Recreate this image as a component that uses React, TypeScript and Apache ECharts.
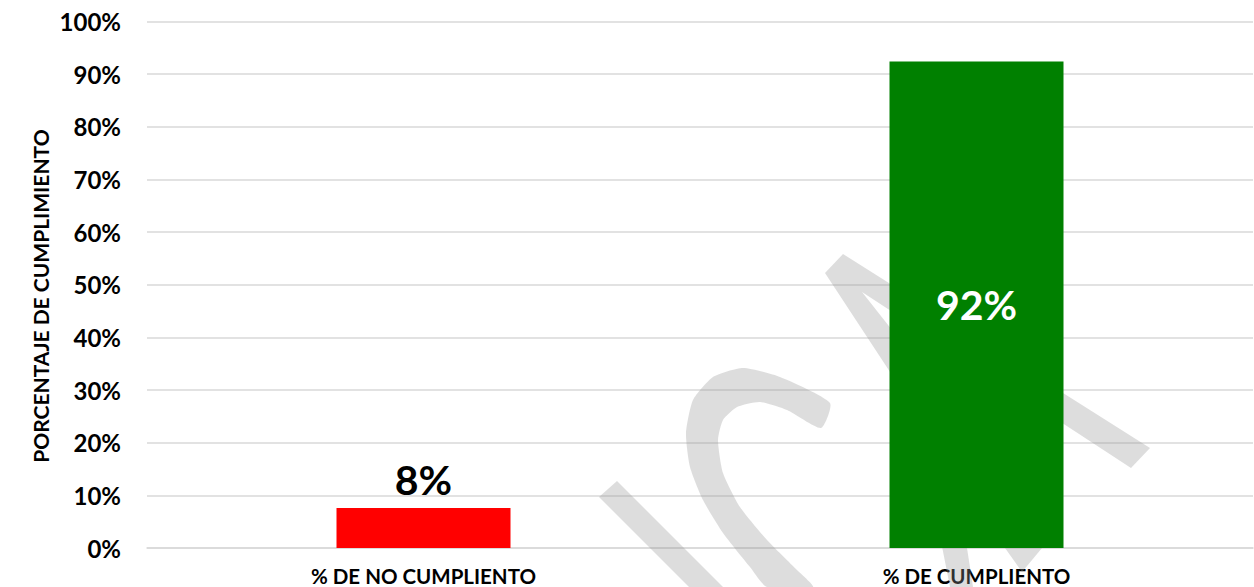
import React, { useEffect, useRef } from "react";
import * as echarts from "echarts";

const categories = ["% DE NO CUMPLIENTO", "% DE CUMPLIENTO"];
const values = [7.6, 92.4];
const barColors = ["#ff0000", "#008000"];
const labelColors = ["#000000", "#ffffff"];
const labelPositions = ["top", "inside"];
const yAxisName = "PORCENTAJE DE CUMPLIMIENTO";

const FONT = "Lato, 'Open Sans', sans-serif";
const WM = "rgba(150,150,150,0.32)";

export default function App() {
  const ref = useRef<HTMLDivElement>(null);
  useEffect(() => {
    if (!ref.current) return;
    const chart = echarts.init(ref.current, undefined, { renderer: "svg" });
    const wm = (pts: number[][], smooth = 0) => ({
      type: "polygon",
      z: 1,
      silent: true,
      shape: { points: pts, smooth },
      style: { fill: WM },
    });
    chart.setOption({
      animation: false,
      backgroundColor: "#ffffff",
      grid: { left: 147, right: 1, top: 21.5, bottom: 39, containLabel: false },
      xAxis: {
        type: "category",
        data: categories,
        axisLine: { show: true, lineStyle: { color: "#d9d9d9", width: 1.5 } },
        axisTick: { show: false },
        axisLabel: {
          color: "#000",
          fontFamily: FONT,
          fontWeight: "bold",
          fontSize: 20.5,
          lineHeight: 20,
          margin: 18,
        },
      },
      yAxis: {
        type: "value",
        min: 0,
        max: 100,
        interval: 10,
        axisLine: { show: false },
        axisTick: { show: false },
        axisLabel: {
          formatter: "{value}%",
          color: "#000",
          fontFamily: FONT,
          fontWeight: "bold",
          fontSize: 24,
          margin: 26,
        },
        splitLine: { lineStyle: { color: "#d9d9d9", width: 1.5 } },
      },
      graphic: [
        {
          type: "text",
          x: 40,
          y: 296,
          rotation: Math.PI / 2,
          z: 3,
          style: {
            text: yAxisName,
            fill: "#000",
            font: `bold 21px ${FONT}`,
            align: "center",
            verticalAlign: "middle",
          },
        },
        wm([[617, 481], [723, 587], [689, 587], [599, 497]]),
        wm([
          [830, 403], [780, 377], [743, 368], [713, 377], [693, 400], [686, 433],
          [690, 467], [703, 500], [723, 533], [750, 567], [767, 587],
          [813, 587], [797, 570], [767, 540], [740, 507], [723, 473], [718, 440],
          [723, 420], [737, 407], [760, 402], [787, 410], [821, 428],
        ], 0.2),
        wm([
          [825, 273], [892, 375], [925, 460], [950, 587], [973, 587], [955, 470],
          [925, 380], [892, 330], [862, 292], [1131, 468], [1150, 448], [843, 254],
        ]),
        wm([[1005, 548], [1042, 548], [1022, 572]]),
      ],
      series: [
        {
          type: "bar",
          z: 2,
          barWidth: 174,
          data: values.map((v, i) => ({
            value: v,
            itemStyle: { color: barColors[i] },
            label: {
              show: true,
              position: labelPositions[i],
              distance: 8,
              color: labelColors[i],
              fontFamily: FONT,
              fontWeight: "bold",
              fontSize: 41,
              formatter: () => Math.round(v) + "%",
            },
          })),
        },
      ],
    });
    return () => chart.dispose();
  }, []);
  return (
    <div
      ref={ref}
      style={{ position: "fixed", left: 0, top: 0, width: 1254, height: 587 }}
    />
  );
}
